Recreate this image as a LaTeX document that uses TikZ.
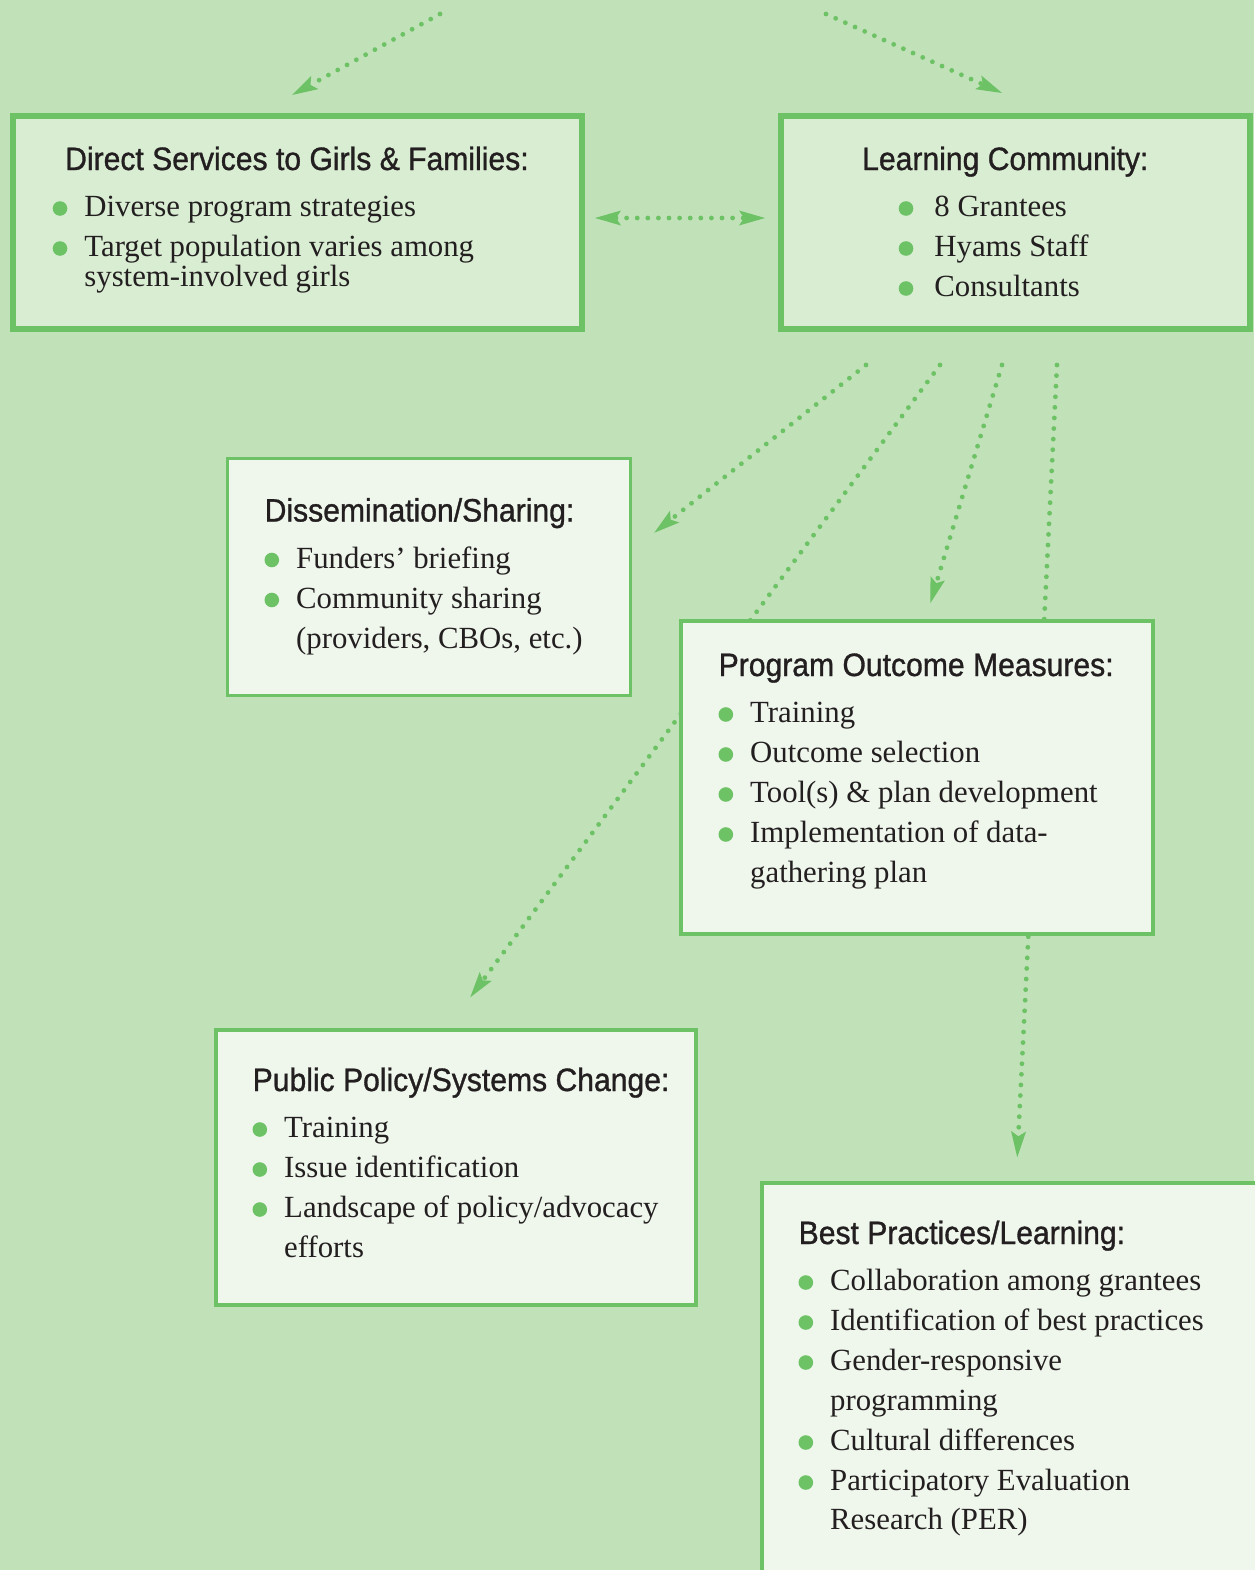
\documentclass[tikz,border=0pt]{standalone}
\usepackage{fontspec}
\setmainfont{Liberation Serif}
\newfontfamily\headfont{Liberation Sans}[FakeStretch=0.93, FakeBold=1]
\usetikzlibrary{arrows.meta, positioning, calc, backgrounds}

\definecolor{bggreen}{HTML}{C1E1B9}
\definecolor{linegreen}{HTML}{6CC264}
\definecolor{topfill}{HTML}{D9EDD3}
\definecolor{lowfill}{HTML}{EFF7EC}
\definecolor{inkdark}{HTML}{231F20}

\newcommand{\heading}[1]{{\headfont\fontsize{32.5}{40}\selectfont #1}}

\begin{document}
\begin{tikzpicture}
	[x=1bp, y=-1bp,
	topbox/.style={draw=linegreen, line width=6bp, fill=topfill, inner sep=0pt},
	lowbox/.style={draw=linegreen, line width=3.5bp, fill=lowfill, inner sep=0pt},
	itemtext/.style={anchor=base west, inner sep=0pt, text=inkdark, font=\fontsize{30.9}{40}\selectfont},
	bulletdot/.style={fill=linegreen},
	dotlink/.style={draw=linegreen, line width=4.8bp, line cap=round, dash pattern=on 0bp off 10.6bp,
		-{Stealth[length=26bp, width=15bp, inset=5bp, line width=0pt]}},
	dotpair/.style={dotlink, {Stealth[length=26bp, width=15bp, inset=5bp, line width=0pt]}-{Stealth[length=26bp, width=15bp, inset=5bp, line width=0pt]}}
	]

	% Page
	\useasboundingbox (0,0) rectangle (1254,1570);
	\begin{scope}[on background layer]
		\fill[bggreen] (0,0) rectangle (1254,1570);
	\end{scope}

	% Boxes
	\node[topbox, minimum width=569bp, minimum height=213bp] (ds) at (297.5,222.5) {};
	\node[topbox, minimum width=469bp, minimum height=213bp] (lc) at (1015.5,222.5) {};
	\node[lowbox, minimum width=403bp, minimum height=237bp] (dis) at (429,577) {};
	\node[lowbox, minimum width=472bp, minimum height=313bp] (pom) at (917,777.5) {};
	\node[lowbox, minimum width=480bp, minimum height=275bp] (pp) at (456,1167.5) {};
	\node[lowbox, minimum width=538bp, minimum height=437bp] (bp) at (1031,1401.5) {};

	% Texts
	\node[itemtext] (ds-txt) at (52.7,170) {\begin{tabular}[t]{@{\hspace{31.5bp}}l@{}}
		\multicolumn{1}{@{\hspace{12.3bp}}l@{}}{\heading{Direct Services to Girls \& Families:}}\\[7bp]
		Diverse program strategies\\
		\parbox[t]{420bp}{\baselineskip=30bp Target population varies among\\system-involved girls}
	\end{tabular}};
	\node[itemtext] (lc-txt) at (898.7,170) {\begin{tabular}[t]{@{\hspace{35.5bp}}l@{}}
		\multicolumn{1}{@{\hspace{-36.7bp}}l@{}}{\heading{Learning Community:}}\\[7bp]
		8 Grantees\\
		Hyams Staff\\
		Consultants
	\end{tabular}};
	\node[itemtext] (dis-txt) at (264.5,521.5) {\begin{tabular}[t]{@{\hspace{31.5bp}}l@{}}
		\multicolumn{1}{@{}l@{}}{\heading{Dissemination/Sharing:}}\\[7bp]
		Funders’ briefing\\
		Community sharing\\
		(providers, CBOs, etc.)
	\end{tabular}};
	\node[itemtext] (pom-txt) at (718.5,676) {\begin{tabular}[t]{@{\hspace{31.5bp}}l@{}}
		\multicolumn{1}{@{}l@{}}{\heading{Program Outcome Measures:}}\\[7bp]
		Training\\
		Outcome selection\\
		Tool(s) \& plan development\\
		Implementation of data-\\
		gathering plan
	\end{tabular}};
	\node[itemtext] (pp-txt) at (252.5,1091) {\begin{tabular}[t]{@{\hspace{31.5bp}}l@{}}
		\multicolumn{1}{@{}l@{}}{\heading{Public Policy/Systems Change:}}\\[7bp]
		Training\\
		Issue identification\\
		Landscape of policy/advocacy\\
		efforts
	\end{tabular}};
	\node[itemtext] (bp-txt) at (798.5,1244) {\begin{tabular}[t]{@{\hspace{31.5bp}}l@{}}
		\multicolumn{1}{@{}l@{}}{\heading{Best Practices/Learning:}}\\[7bp]
		Collaboration among grantees\\
		Identification of best practices\\
		Gender-responsive\\
		programming\\
		Cultural differences\\
		Participatory Evaluation\\
		Research (PER)
	\end{tabular}};

	% Bullets
	\foreach \k in {0,1}
		\fill[bulletdot] ([shift={(7.3,38.5+40*\k)}]ds-txt.base west) circle[radius=7.3bp];
	\foreach \k in {0,1,2}
		\fill[bulletdot] ([shift={(7.3,38.5+40*\k)}]lc-txt.base west) circle[radius=7.3bp];
	\foreach \k in {0,1}
		\fill[bulletdot] ([shift={(7.3,38.5+40*\k)}]dis-txt.base west) circle[radius=7.3bp];
	\foreach \k in {0,1,2,3}
		\fill[bulletdot] ([shift={(7.3,38.5+40*\k)}]pom-txt.base west) circle[radius=7.3bp];
	\foreach \k in {0,1,2}
		\fill[bulletdot] ([shift={(7.3,38.5+40*\k)}]pp-txt.base west) circle[radius=7.3bp];
	\foreach \k in {0,1,2,4,5}
		\fill[bulletdot] ([shift={(7.3,38.5+40*\k)}]bp-txt.base west) circle[radius=7.3bp];

	% Arrows (behind the boxes)
	\begin{scope}[on background layer]
		\coordinate (top-l) at (440,14);
		\coordinate (top-r) at (826,14);
		\draw[dotlink] (top-l) -- ([shift={(282,-18)}]ds.north west);
		\draw[dotlink] (top-r) -- ([shift={(224,-20)}]lc.north west);
		\draw[dotpair] ([shift={(10,-4.5)}]ds.east) -- ([shift={(-13,-4.5)}]lc.west);
		\draw[dotlink] ([shift={(88,33)}]lc.south west) -- ([shift={(22,76)}]dis.north east);
		\draw[dotlink] ([shift={(162,33)}]lc.south west) -- ([shift={(256,-31)}]pp.north west);
		\draw[dotlink] ([shift={(224,33)}]lc.south west) -- ([shift={(251,-16)}]pom.north west);
		\draw[dotlink] ([shift={(279,33)}]lc.south west) -- ([shift={(257,-24)}]bp.north west);
	\end{scope}
\end{tikzpicture}
\end{document}
